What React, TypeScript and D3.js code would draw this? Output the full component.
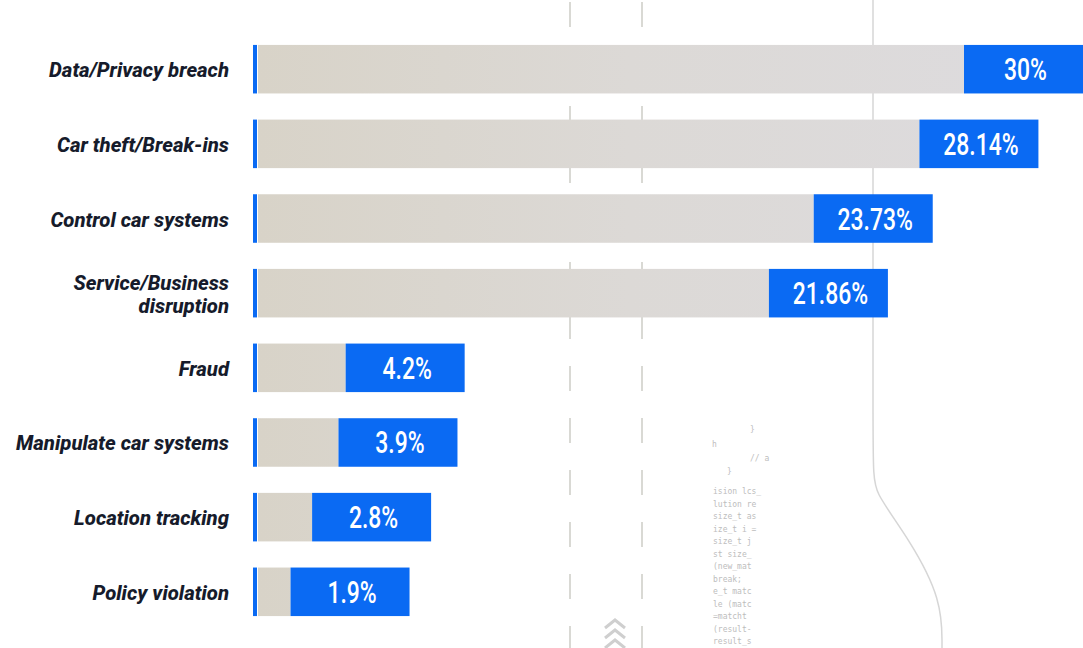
import React from "react";
import * as d3 from "d3";

const categories: string[][] = [
  ["Data/Privacy breach"],
  ["Car theft/Break-ins"],
  ["Control car systems"],
  ["Service/Business", "disruption"],
  ["Fraud"],
  ["Manipulate car systems"],
  ["Location tracking"],
  ["Policy violation"],
];
const values: number[] = [30, 28.14, 23.73, 21.86, 4.2, 3.9, 2.8, 1.9];
const valueLabels: string[] = ["30%", "28.14%", "23.73%", "21.86%", "4.2%", "3.9%", "2.8%", "1.9%"];
const codeLines: string[] = [
  "ision lcs_",
  "lution re",
  "size_t as",
  "ize_t i =",
  "size_t j",
  "st size_",
  " (new_mat",
  "break;",
  "e_t matc",
  "le (matc",
  "=matcht",
  " (result-",
  "result_s",
];

const W = 1083;
const H = 648;
const BLUE = "#0a6af3";

export default function App() {
  const x = d3.scaleLinear().domain([0, 30]).range([245, 964]);
  const y = d3
    .scaleBand<number>()
    .domain(d3.range(values.length))
    .range([30, 631])
    .paddingInner(0.35)
    .paddingOuter(0.2);
  const barStart = 258;
  const boxW = 119;
  const bh = y.bandwidth();

  const curve = d3.line<[number, number]>().curve(d3.curveBasis)([
    [873, 0],
    [873, 470],
    [873, 490],
    [910, 540],
    [942, 600],
    [942, 648],
  ]);

  return (
    <svg width={W} height={H} style={{ position: "absolute", left: 0, top: 0, background: "#fff" }}>
      <defs>
        <linearGradient id="barGrad" gradientUnits="userSpaceOnUse" x1={258} x2={1000} y1={0} y2={0}>
          <stop offset="0" stopColor="#d8d3c8" />
          <stop offset="0.5" stopColor="#dcd9d6" />
          <stop offset="1" stopColor="#dddbdd" />
        </linearGradient>
      </defs>
      <rect width={W} height={H} fill="#fff" />
      {[570, 642].map((lx) => (
        <line key={lx} x1={lx} x2={lx} y1={0} y2={H} stroke="#d9d9d4" strokeWidth={2} strokeDasharray="25 27" strokeDashoffset={-2} />
      ))}
      <path d={curve || ""} fill="none" stroke="#d6d6d6" strokeWidth={1.5} />
      <g fontFamily="DejaVu Sans Mono, monospace" fontSize={8} fill="#bdbdbd">
        <text x={712} y={447}>h</text>
        <text x={750} y={432}>{"}"}</text>
        <text x={750} y={461}>// a</text>
        <text x={727} y={474}>{"}"}</text>
        {codeLines.map((t, i) => (
          <text key={i} x={713} y={494 + i * 12.5}>{t}</text>
        ))}
      </g>
      <g fill="none" stroke="#cfcfcf" strokeWidth={3}>
        {[620, 630, 640].map((cy) => (
          <path key={cy} d={`M605,${cy + 8} L615,${cy} L625,${cy + 8}`} />
        ))}
      </g>
      {values.map((v, i) => {
        const top = y(i)!;
        const cy = top + bh / 2;
        const end = x(v);
        const lines = categories[i];
        return (
          <g key={i}>
            <rect x={253} y={top} width={4} height={bh} fill={BLUE} />
            <rect x={barStart} y={top} width={Math.max(0, end - barStart)} height={bh} fill="url(#barGrad)" />
            <rect x={end} y={top} width={boxW} height={bh} fill={BLUE} />
            <text
              transform={`translate(${end + boxW / 2 + 2},${cy + 11}) scale(0.74,1)`}
              textAnchor="middle"
              fontFamily="Roboto"
              fontWeight={500}
              fontSize={31}
              fill="#fff"
            >
              {valueLabels[i]}
            </text>
            {lines.map((t, j) => (
              <text
                key={j}
                transform={`translate(229,${cy + 8 + (j - (lines.length - 1) / 2) * 23}) scale(0.97,1)`}
                textAnchor="end"
                fontFamily="Roboto"
                fontWeight={800}
                fontStyle="italic"
                fontSize={21}
                fill="#161b2b"
              >
                {t}
              </text>
            ))}
          </g>
        );
      })}
    </svg>
  );
}
